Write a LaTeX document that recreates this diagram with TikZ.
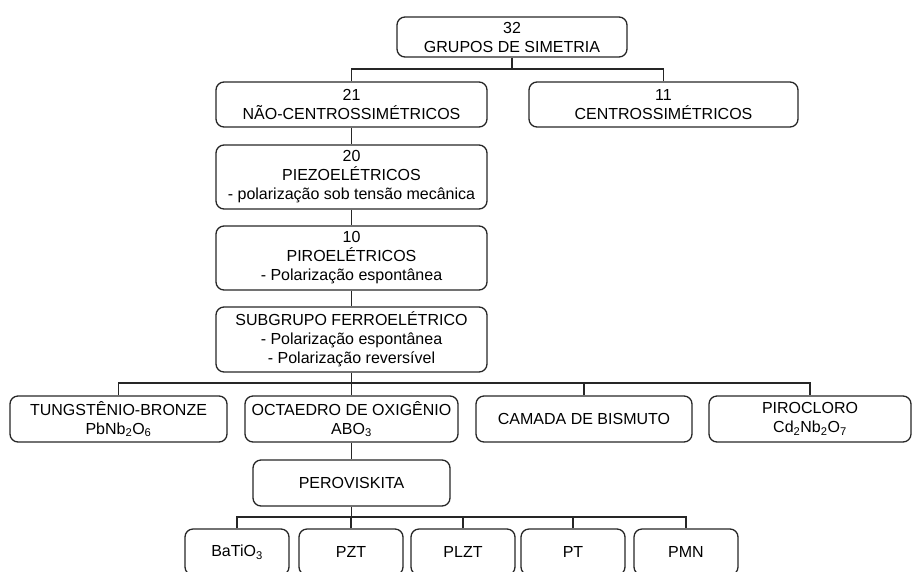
\documentclass[tikz,border=0pt]{standalone}
\usepackage{fontspec}
\setmainfont{Liberation Sans}
\begin{document}
\begin{tikzpicture}[x=1pt,y=-1pt,
    caixa/.style={draw=black!85, line width=1.3pt, rounded corners=8pt, align=center,
      inner sep=1pt, font=\fontsize{16}{19}\selectfont},
    ligacao/.style={draw=black!85, line width=1.3pt}]
    \path[use as bounding box, clip] (0,0) rectangle (912,571);
    \node[caixa, minimum width=230pt, minimum height=40pt] (grupos) at (512,37) {32\\GRUPOS DE SIMETRIA};
    \node[caixa, minimum width=271pt, minimum height=45pt] (nao) at (351.5,104.5) {21\\NÃO-CENTROSSIMÉTRICOS};
    \node[caixa, minimum width=269pt, minimum height=45pt] (centro) at (663.5,104.5) {11\\CENTROSSIMÉTRICOS};
    \node[caixa, minimum width=271pt, minimum height=64pt] (piezo) at (351.5,177) {20\\PIEZOELÉTRICOS\\- polarização sob tensão mecânica};
    \node[caixa, minimum width=271pt, minimum height=64pt] (piro) at (351.5,258) {10\\PIROELÉTRICOS\\- Polarização espontânea};
    \node[caixa, minimum width=271pt, minimum height=65pt] (ferro) at (351.5,339.5) {SUBGRUPO FERROELÉTRICO\\- Polarização espontânea\\- Polarização reversível};
    \node[caixa, minimum width=217pt, minimum height=46pt] (tung) at (118.5,419) {TUNGSTÊNIO-BRONZE\\PbNb\textsubscript{2}O\textsubscript{6}};
    \node[caixa, minimum width=213pt, minimum height=46pt] (octa) at (351.5,419) {OCTAEDRO DE OXIGÊNIO\\ABO\textsubscript{3}};
    \node[caixa, minimum width=216pt, minimum height=46pt] (camada) at (584,419) {CAMADA DE BISMUTO};
    \node[caixa, minimum width=202pt, minimum height=46pt] (cloro) at (810,419) {PIROCLORO\\Cd\textsubscript{2}Nb\textsubscript{2}O\textsubscript{7}};
    \node[caixa, minimum width=197pt, minimum height=46pt] (perov) at (351.5,483) {PEROVISKITA};
    \node[caixa, minimum width=104pt, minimum height=46pt] (batio) at (237,552) {BaTiO\textsubscript{3}};
    \node[caixa, minimum width=104pt, minimum height=46pt] (pzt) at (351,552) {PZT};
    \node[caixa, minimum width=104pt, minimum height=46pt] (plzt) at (463,552) {PLZT};
    \node[caixa, minimum width=104pt, minimum height=46pt] (pt) at (573,552) {PT};
    \node[caixa, minimum width=104pt, minimum height=46pt] (pmn) at (686,552) {PMN};

    \coordinate (bus1) at (0,69);
    \coordinate (bus2) at (0,383);
    \coordinate (bus3) at (0,517);

    \draw[ligacao] (grupos.south) -- (grupos.south |- bus1);
    \draw[ligacao] (nao.north) |- (centro.north |- bus1) -- (centro.north);
    \draw[ligacao] (nao.south) -- (piezo.north);
    \draw[ligacao] (piezo.south) -- (piro.north);
    \draw[ligacao] (piro.south) -- (ferro.north);
    \draw[ligacao] (ferro.south) -- (ferro.south |- bus2);
    \draw[ligacao] (tung.north) |- (cloro.north |- bus2) -- (cloro.north);
    \draw[ligacao] (octa.north) -- (octa.north |- bus2);
    \draw[ligacao] (camada.north) -- (camada.north |- bus2);
    \draw[ligacao] (octa.south) -- (perov.north);
    \draw[ligacao] (perov.south) -- (perov.south |- bus3);
    \draw[ligacao] (batio.north) |- (pmn.north |- bus3) -- (pmn.north);
    \foreach \n in {pzt,plzt,pt}
      \draw[ligacao] (\n.north) -- (\n.north |- bus3);
\end{tikzpicture}
\end{document}
